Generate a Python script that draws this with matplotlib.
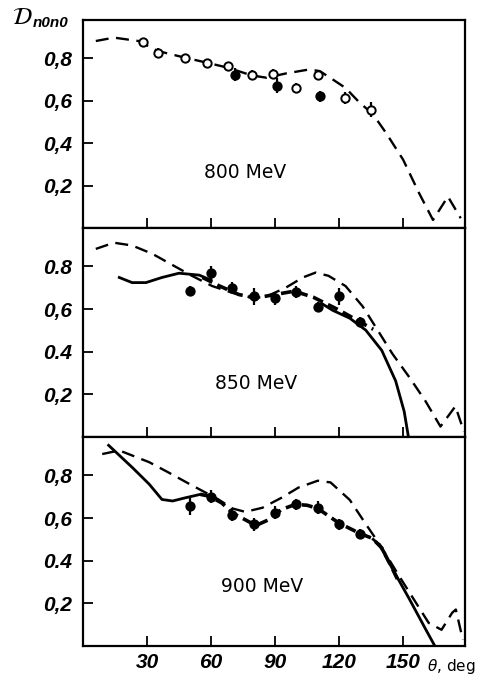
import matplotlib
matplotlib.use('Agg')
import matplotlib.pyplot as plt

# --- data (theta in deg, D_n0n0) ---
# 800 MeV
th800_dash = [6, 14.5, 26, 35, 48, 58, 68, 79, 86, 95, 106, 111, 117, 123, 129, 136, 142, 150, 157.5, 164, 171, 177]
d800_dash = [.881, .897, .881, .834, .802, .779, .755, .719, .708, .728, .747, .739, .700, .660, .597, .534, .448, .322, .164, .038, .148, .046]
th800_open = [28, 35, 48, 58, 68, 79, 89, 100, 110, 123, 135]
d800_open = [.876, .826, .802, .779, .763, .723, .727, .660, .719, .613, .558]
e800_open = [.02, .02, .015, .015, .02, .02, .02, .025, .02, .03, .035]
th800_full = [71, 91, 111]
d800_full = [.723, .671, .621]
e800_full = [.03, .035, .025]

# 850 MeV
th850_dash = [6, 14.5, 23, 32.5, 42, 51, 60.5, 70, 79.5, 85.5, 95, 103, 109, 115, 123, 131, 137, 145, 153, 160.5, 167.5, 174.5, 178.5]
d850_dash = [.882, .911, .898, .859, .806, .756, .708, .676, .652, .657, .700, .748, .771, .756, .708, .613, .518, .390, .279, .168, .049, .144, .025]
th850_solA = [17, 23, 29.5, 37, 45, 54.5, 60]
d850_solA = [.748, .724, .724, .748, .768, .759, .735]
th850_bold = [56, 64, 73, 81, 90, 99, 108, 120, 131, 136]
d850_bold = [.748, .708, .668, .652, .668, .684, .655, .595, .533, .505]
th850_solB = [112, 117, 125, 132.5, 140, 146.5, 150.5, 152.5]
d850_solB = [.625, .594, .557, .501, .406, .263, .120, 0.0]
th850_pts = [50, 60, 70, 80, 90, 100, 110, 120, 130]
d850_pts = [.685, .77, .70, .66, .65, .68, .61, .66, .54]
e850_pts = [.025, .03, .025, .04, .03, .03, .025, .04, .025]

# 900 MeV
th900_dash = [9, 17, 31, 40, 50, 56, 63, 70, 76, 84, 93, 101, 110, 116, 125, 132.5, 140, 148, 156, 162, 168, 173, 174.7, 178]
d900_dash = [.90, .917, .862, .814, .759, .727, .69, .645, .629, .648, .695, .743, .775, .767, .685, .572, .462, .33, .203, .108, .076, .156, .171, .029]
th900_solA = [12, 23, 31, 37, 42, 48, 55]
d900_solA = [.941, .838, .759, .687, .680, .695, .711]
th900_bold = [55, 59, 65, 70, 76, 81, 87, 93, 99.5, 105, 110, 120, 129.5, 135.5, 140, 145, 148]
d900_bold = [.711, .703, .671, .624, .592, .565, .592, .640, .664, .66, .645, .576, .529, .505, .46, .362, .30]
th900_solB = [136, 139, 145, 153, 160.7, 164.6]
d900_solB = [.50, .473, .362, .219, .076, .005]
th900_pts = [50, 60, 70, 80, 90, 100, 110, 120, 130]
d900_pts = [.655, .70, .615, .57, .625, .665, .648, .57, .525]
e900_pts = [.04, .03, .03, .03, .03, .025, .03, .025, .025]

xticks = [30, 60, 90, 120, 150]
yticks = [0.2, 0.4, 0.6, 0.8]
ylabels800 = ['0,2', '0,4', '0,6', '0,8']
ylabels850 = ['0,2', '0.4', '0,6', '0.8']
ylabels900 = ['0,2', '0.4', '0,6', '0,8']

tickfont = dict(family=['Liberation Sans', 'DejaVu Sans'], weight='bold', style='italic', size=15)

fig = plt.figure(figsize=(4.81, 6.75), dpi=100)
W, H = 481., 675.
left, right = 83 / W, 465 / W
tops = [20, 228, 437]
bots = [228, 437, 646]
axes = []
for t, b in zip(tops, bots):
    axes.append(fig.add_axes([left, 1 - b / H, right - left, (b - t) / H]))

def dash(ax, th, d):
    ax.plot(th, d, color='k', lw=1.7, dashes=(5.5, 3.2))

def bold(ax, th, d):
    ax.plot(th, d, color='k', lw=2.6, dashes=(3.0, 1.6))

def solid(ax, th, d):
    ax.plot(th, d, color='k', lw=2.0)

def points(ax, th, d, e, open_=False):
    ax.errorbar(th, d, yerr=e, fmt='o', color='k', ms=6, elinewidth=1.6, capsize=0,
                mfc='white' if open_ else 'k', mec='k', mew=1.4, zorder=5)

ax1, ax2, ax3 = axes
dash(ax1, th800_dash, d800_dash)
points(ax1, th800_open, d800_open, e800_open, open_=True)
points(ax1, th800_full, d800_full, e800_full)
ax1.text(76, 0.26, '800 MeV', fontsize=13.5, ha='center', va='center')

dash(ax2, th850_dash, d850_dash)
solid(ax2, th850_solA, d850_solA)
bold(ax2, th850_bold, d850_bold)
solid(ax2, th850_solB, d850_solB)
points(ax2, th850_pts, d850_pts, e850_pts)
ax2.text(81, 0.25, '850 MeV', fontsize=13.5, ha='center', va='center')

dash(ax3, th900_dash, d900_dash)
solid(ax3, th900_solA, d900_solA)
bold(ax3, th900_bold, d900_bold)
solid(ax3, th900_solB, d900_solB)
points(ax3, th900_pts, d900_pts, e900_pts)
ax3.text(84, 0.28, '900 MeV', fontsize=13.5, ha='center', va='center')

for ax, labs in zip(axes, [ylabels800, ylabels850, ylabels900]):
    ax.set_xlim(0, 179)
    ax.set_ylim(0, 0.98)
    ax.set_xticks(xticks)
    ax.set_yticks(yticks)
    ax.set_yticklabels(labs, fontdict=tickfont)
    ax.tick_params(direction='in', length=7, width=1.3)
    ax.tick_params(axis='y', pad=8)
    ax.tick_params(axis='x', labelbottom=False)
    for s in ax.spines.values():
        s.set_linewidth(1.6)

ax3.tick_params(axis='x', labelbottom=True, pad=5)
ax3.set_xticklabels([str(v) for v in xticks], fontdict=tickfont)
ax3.text(161, -0.095, r'$\theta$, deg', transform=ax3.transData, fontsize=11,
         ha='left', va='center')

fig.text(0.025, 0.975, r'$\mathcal{D}$', fontsize=17, ha='left', va='center')
fig.text(0.068, 0.966, 'n0n0', fontsize=11, ha='left', va='center',
         family=['Liberation Sans', 'DejaVu Sans'], weight='bold', style='italic')

fig.savefig('out.png', dpi=100, facecolor='w')
